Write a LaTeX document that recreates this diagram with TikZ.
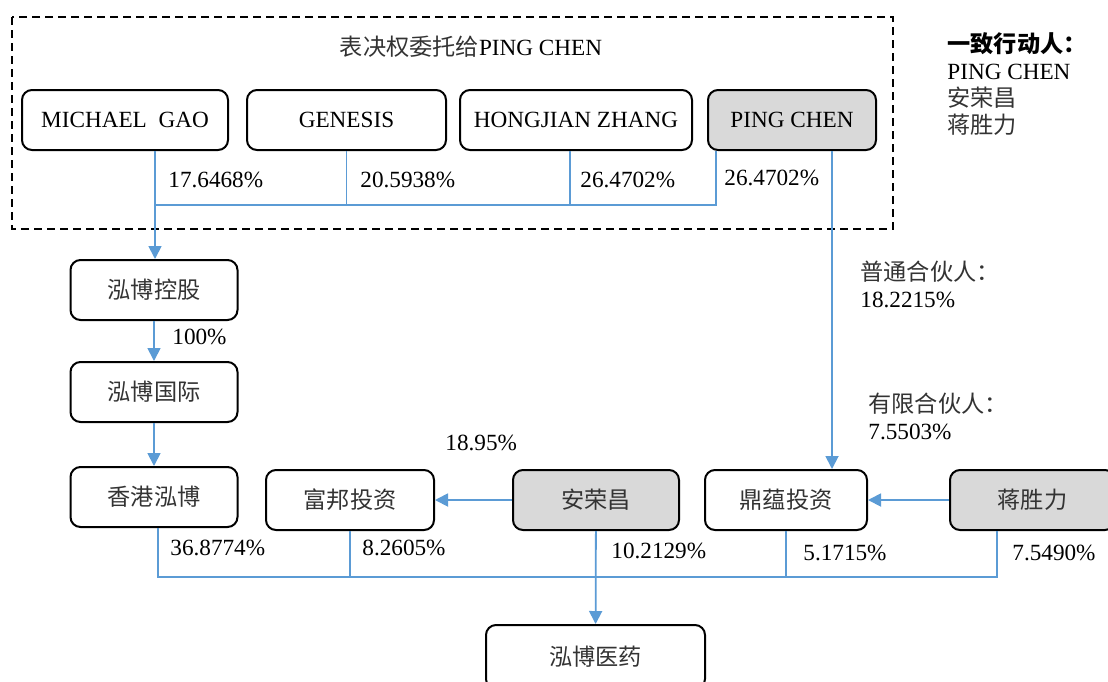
\documentclass[tikz,border=0pt]{standalone}
\usepackage{fontspec}
\setmainfont{Liberation Serif}
\newfontfamily\cjkfont{Noto Sans CJK SC}[Scale=1.0]
\usepackage{tikz}
\usetikzlibrary{arrows.meta}
\definecolor{linkblue}{RGB}{91,155,213}
\definecolor{holdergray}{RGB}{217,217,217}
\newcommand{\zh}[1]{{\cjkfont\color{black!80}#1}}

\begin{document}
\begin{tikzpicture}[x=0.5pt,y=-0.5pt,
  font=\fontsize{11.6}{13.5}\selectfont,
  entity/.style={draw, line width=1pt, rounded corners=5pt, minimum height=30pt, inner sep=0pt},
  holder/.style={entity, fill=holdergray},
  link/.style={linkblue, line width=0.6pt},
  flow/.style={linkblue, line width=0.9pt, -{Triangle[width=6.5pt,length=6.5pt]}},
  pct/.style={anchor=west, inner sep=0pt},
  note/.style={anchor=north west, inner sep=0pt, align=left, font=\fontsize{11.6}{13.5}\selectfont}]

 \useasboundingbox (0,0) rectangle (1108,681);

 \draw[line width=0.75pt, dash pattern=on 4pt off 2.5pt] (12,17) rectangle (893,229);
 \node (title) at (471,47) {\zh{表决权委托给}PING CHEN};
 \node[note] (allies) at (947,32) {{\cjkfont\bfseries 一致行动人：}\\PING CHEN\\\zh{安荣昌}\\\zh{蒋胜力}};

 \node[entity, minimum width=103pt] (gao) at (125,120) {MICHAEL\hspace{0.5em}GAO};
 \node[entity, minimum width=99.5pt] (genesis) at (346.5,120) {GENESIS};
 \node[entity, minimum width=116pt] (hongjian) at (576,120) {HONGJIAN ZHANG};
 \node[holder, minimum width=84pt] (pingchen) at (792,120) {PING CHEN};

 \node[entity, minimum width=83.5pt] (hongbo) at (154,290) {\zh{泓博控股}};
 \node[entity, minimum width=83.5pt] (intl) at (154,392) {\zh{泓博国际}};
 \node[entity, minimum width=83.5pt] (hk) at (154,497) {\zh{香港泓博}};
 \node[entity, minimum width=84pt] (fubang) at (350,500) {\zh{富邦投资}};
 \node[holder, minimum width=83pt] (anrong) at (596,500) {\zh{安荣昌}};
 \node[entity, minimum width=81pt] (dingyun) at (786,500) {\zh{鼎蕴投资}};
 \node[holder, minimum width=82.5pt] (jiang) at (1032.5,500) {\zh{蒋胜力}};
 \node[entity, minimum width=109.5pt, minimum height=32pt] (yiyao) at (595.5,657) {\zh{泓博医药}};

 \coordinate (busA) at (155,205);
 \coordinate (busB) at (596,577);

 \draw[link] (gao.south -| busA) -- (busA);
 \draw[link] (genesis.south) |- (busA);
 \draw[link] ([xshift=-3pt]hongjian.south) |- (busA);
 \draw[link] ([xshift=-38pt]pingchen.south) |- (busA);
 \draw[flow] (busA) -- (busA |- hongbo.north);
 \draw[flow] (hongbo) -- (intl);
 \draw[flow] (intl) -- (hk);
 \draw[flow] ([xshift=20pt]pingchen.south) -- ([xshift=20pt]pingchen.south |- dingyun.north);
 \draw[flow] (anrong) -- (fubang);
 \draw[flow] (jiang) -- (dingyun);

 \draw[link] ([xshift=2pt]hk.south) |- (busB);
 \draw[link] (fubang.south) |- (busB);
 \draw[link] (dingyun.south) |- (busB);
 \draw[link] ([xshift=-17.75pt]jiang.south) |- (busB);
 \draw[flow] (anrong) -- (yiyao);

 \node[pct] (pgao) at (168,180) {17.6468\%};
 \node[pct] (pgenesis) at (360,180) {20.5938\%};
 \node[pct] (phongjian) at (580,180) {26.4702\%};
 \node[pct] (pping) at (724,178) {26.4702\%};
 \node[pct] (phongbo) at (172,337) {100\%};
 \node[pct] (pfubang) at (445,443) {18.95\%};
 \node[note] (gp) at (860,261) {\zh{普通合伙人：}\\18.2215\%};
 \node[note] (lp) at (868,393) {\zh{有限合伙人：}\\7.5503\%};
 \node[pct] (phk) at (170,548) {36.8774\%};
 \node[pct] (pfb) at (362,548) {8.2605\%};
 \node[pct] (par) at (611,551) {10.2129\%};
 \node[pct] (pdy) at (803,553) {5.1715\%};
 \node[pct] (pjs) at (1012,553) {7.5490\%};

\end{tikzpicture}
\end{document}
